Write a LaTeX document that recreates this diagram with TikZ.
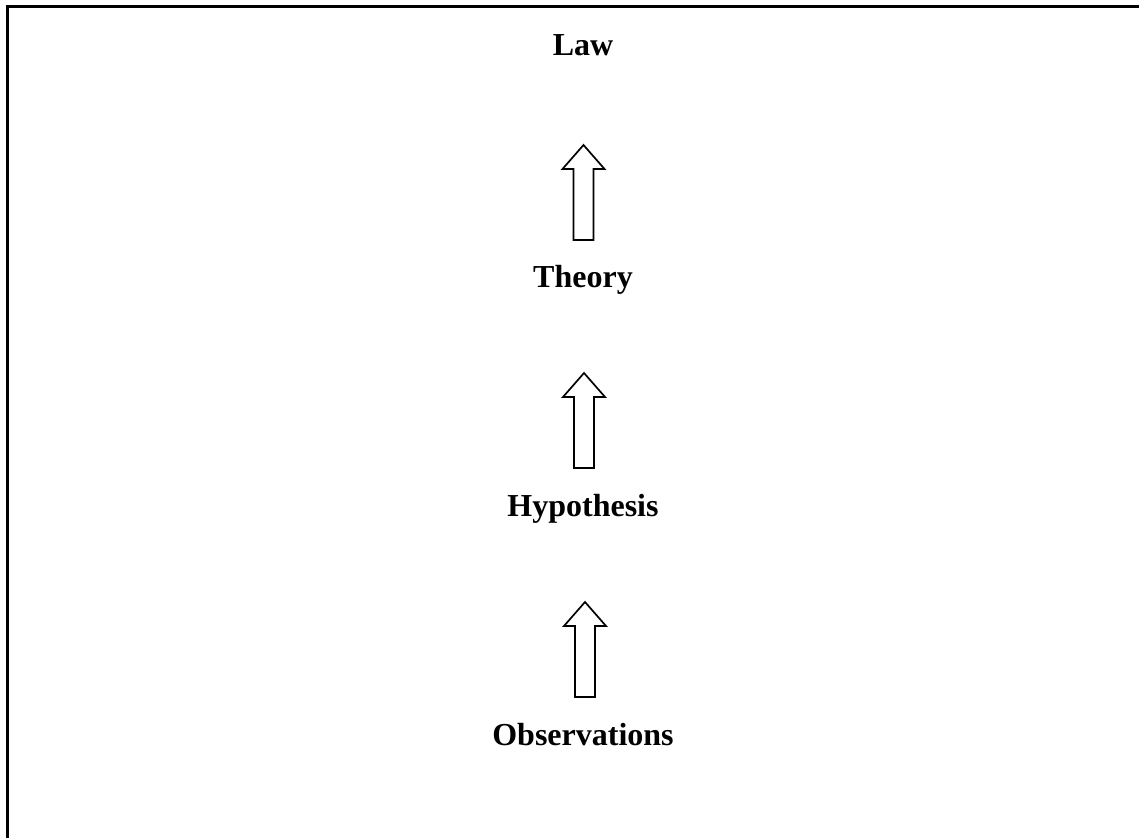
\documentclass[tikz,border=0pt]{standalone}
\usepackage{fontspec}
\setmainfont{Liberation Serif}
\tikzset{
  label/.style={font=\fontsize{32}{37}\selectfont\bfseries, inner sep=0pt, anchor=base},
  frame/.style={line width=3pt},
  blockarrow/.style={line width=1.7pt, line join=miter},
  uparrow/.pic={\draw[blockarrow] (-10,0) -- (-10,-71) -- (-21,-71) -- (0,-95) -- (21,-71) -- (10,-71) -- (10,0) -- cycle;}
}
\begin{document}
\begin{tikzpicture}[x=1pt,y=-1pt]
\useasboundingbox (0,0) rectangle (1139,837);
\draw[frame] (7,840) -- (7,7) -- (1142,7);
\node[label] (law) at (583,56) {Law};
\node[label] (theory) at (583,287) {Theory};
\node[label] (hyp) at (583,516) {Hypothesis};
\node[label] (obs) at (583,745) {Observations};
\pic at (583.5,240) {uparrow};
\pic at (584,468) {uparrow};
\pic at (585,697) {uparrow};
\end{tikzpicture}
\end{document}
